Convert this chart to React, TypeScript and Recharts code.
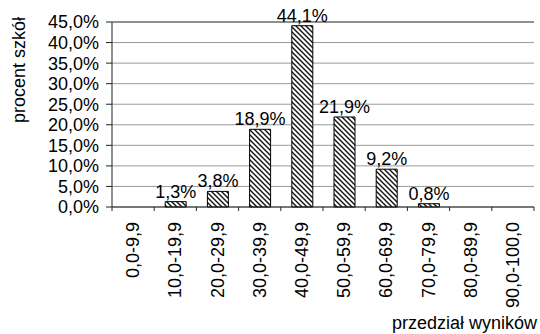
import React from "react";
import {
  BarChart,
  Bar,
  XAxis,
  YAxis,
  CartesianGrid,
  LabelList,
  ReferenceLine,
} from "recharts";

// ── Data ──────────────────────────────────────────────────────────────────────
const categories = [
  "0,0-9,9",
  "10,0-19,9",
  "20,0-29,9",
  "30,0-39,9",
  "40,0-49,9",
  "50,0-59,9",
  "60,0-69,9",
  "70,0-79,9",
  "80,0-89,9",
  "90,0-100,0",
];
const shares = [0, 1.3, 3.8, 18.9, 44.1, 21.9, 9.2, 0.8, 0, 0];
const yTicks = [0, 5, 10, 15, 20, 25, 30, 35, 40, 45];

const rows = categories.map((c, i) => ({ range: c, share: shares[i] }));

// ── Styles ────────────────────────────────────────────────────────────────────
const FONT = "'Liberation Sans', Arial, sans-serif";
const FS = 18;
const PLOT_LEFT = 112;
const PLOT_RIGHT = 534;
const BAND = (PLOT_RIGHT - PLOT_LEFT) / categories.length;

const pct = (v: number) => v.toFixed(1).replace(".", ",") + "%";

function XTick(props: { x?: number; y?: number; payload?: { value: string; index: number } }) {
  const { x = 0, y = 0, payload } = props;
  const last = payload?.index === categories.length - 1;
  const tx = x + 6;
  const ty = y + 15;
  return (
    <g>
      <line x1={x - BAND / 2} y1={y} x2={x - BAND / 2} y2={y + 4} stroke="#222" />
      {last && <line x1={x + BAND / 2} y1={y} x2={x + BAND / 2} y2={y + 4} stroke="#222" />}
      <text
        x={tx}
        y={ty}
        transform={`rotate(-90, ${tx}, ${ty})`}
        textAnchor="end"
        fontSize={FS}
        fontFamily={FONT}
        fill="#000"
      >
        {payload?.value}
      </text>
    </g>
  );
}

export default function App() {
  return (
    <div style={{ position: "absolute", left: 0, top: 0, width: 540, height: 334, background: "#fff" }}>
      <BarChart
        width={540}
        height={334}
        data={rows}
        margin={{ top: 22, right: 6, bottom: 0, left: 0 }}
        barCategoryGap="50%"
      >
        <defs>
          <pattern id="hatch" width={5} height={5} patternUnits="userSpaceOnUse">
            <rect width={5} height={5} fill="#fff" />
            <path d="M-1,-1 L6,6 M-1,4 L1,6 M4,-1 L6,1" stroke="#111" strokeWidth={1.4} />
          </pattern>
        </defs>
        <CartesianGrid vertical={false} stroke="#9a9a9a" />
        <XAxis
          dataKey="range"
          interval={0}
          height={127}
          tickLine={false}
          tickSize={0}
          tickMargin={0}
          axisLine={{ stroke: "#222" }}
          tick={<XTick />}
          label={{
            content: () => (
              <text x={537} y={329} textAnchor="end" fontSize={FS} fontFamily={FONT} fill="#000">
                przedział wyników
              </text>
            ),
          }}
        />
        <YAxis
          width={PLOT_LEFT}
          domain={[0, 45]}
          ticks={yTicks}
          interval={0}
          tickFormatter={pct}
          tickSize={6}
          tickMargin={7}
          axisLine={{ stroke: "#222" }}
          tickLine={{ stroke: "#222" }}
          tick={{ fontSize: FS, fontFamily: FONT, fill: "#000" }}
          label={{
            content: () => (
              <text
                x={25}
                y={70}
                transform="rotate(-90, 25, 70)"
                textAnchor="middle"
                fontSize={FS}
                fontFamily={FONT}
                fill="#000"
              >
                procent szkół
              </text>
            ),
          }}
        />
        <YAxis
          yAxisId="right"
          orientation="right"
          width={0}
          domain={[0, 45]}
          tick={false}
          tickLine={false}
          axisLine={{ stroke: "#555" }}
        />
        <ReferenceLine y={45} stroke="#555" />
        <Bar
          dataKey="share"
          fill="url(#hatch)"
          stroke="#000"
          strokeWidth={1}
          barSize={21}
          isAnimationActive={false}
        >
          <LabelList
            dataKey="share"
            position="top"
            offset={4}
            formatter={(v: number) => (v > 0 ? pct(v) : "")}
            style={{ fontSize: FS, fontFamily: FONT, fill: "#000" }}
          />
        </Bar>
      </BarChart>
    </div>
  );
}
